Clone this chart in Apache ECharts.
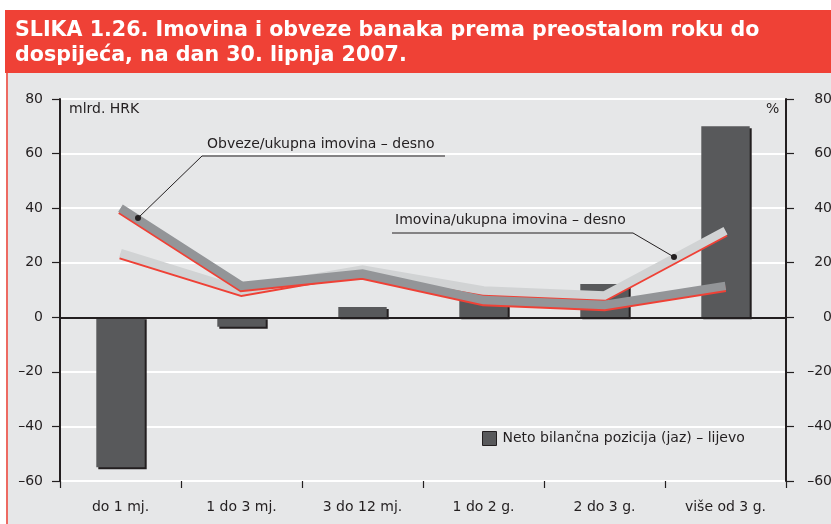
<!DOCTYPE html>
<html lang="hr">
<head>
<meta charset="UTF-8">
<title>Slika 1.26</title>
<script src="https://cdn.jsdelivr.net/npm/echarts@6/dist/echarts.min.js"></script>
<style>
  html, body { margin: 0; padding: 0; background: #fff; }
  #chart { width: 831px; height: 524px; }
</style>
</head>
<body>
<div id="chart"></div>
<script>
  // ročni razredi
  var categories = ['do 1 mj.', '1 do 3 mj.', '3 do 12 mj.', '1 do 2 g.', '2 do 3 g.', 'više od 3 g.'];
  // neto bilančna pozicija (jaz), mlrd. HRK – lijevo
  var gap = [-55, -3.5, 3.8, 6, 12.2, 70];
  // obveze / ukupna imovina, % – desno
  var obveze = [40, 11.5, 16, 6.3, 4.5, 11.5];
  // imovina / ukupna imovina, % – desno
  var imovina = [23.5, 9.8, 17.5, 9.8, 8, 31.7];
  var yTicks = { min: -60, max: 80, step: 20 };

  var txt = '#231f20';
  var font = '"DejaVu Sans", "Liberation Sans", Arial, sans-serif';

  function fmt(v) {
    return v < 0 ? '\u2013' + Math.abs(v) : String(v);
  }

  var chart = echarts.init(document.getElementById('chart'));

  var option = {
    animation: false,
    title: {
      text: 'SLIKA 1.26. Imovina i obveze banaka prema preostalom roku do\ndospijeća, na dan 30. lipnja 2007.',
      left: 10,
      top: 13,
      textStyle: { color: '#fff', fontFamily: font, fontWeight: 'bold', fontSize: 20.6, lineHeight: 25 }
    },
    grid: { left: 60, right: 45, top: 99, bottom: 43, containLabel: false, outerBoundsMode: 'none' },
    legend: {
      data: ['Neto bilančna pozicija (jaz) – lijevo'],
      left: 482, top: 431, padding: 0,
      itemWidth: 14, itemHeight: 14, icon: 'rect',
      selectedMode: false,
      itemStyle: { borderColor: txt, borderWidth: 1, shadowBlur: 0, shadowOffsetX: 0, shadowOffsetY: 0 },
      textStyle: { color: txt, fontFamily: font, fontSize: 14, padding: [0, 0, 0, 1] }
    },
    xAxis: {
      type: 'category',
      data: categories,
      position: 'bottom',
      axisLine: { show: false, onZero: false },
      axisTick: { show: true, length: 7, lineStyle: { color: txt, width: 1.2 } },
      axisLabel: { color: txt, fontFamily: font, fontSize: 14, margin: 19 },
      splitLine: { show: false }
    },
    yAxis: [{
      type: 'value',
      min: yTicks.min, max: yTicks.max, interval: yTicks.step,
      axisLine: { show: true, lineStyle: { color: txt, width: 2 } },
      axisTick: { show: true, length: 8, lineStyle: { color: txt, width: 1.2 } },
      axisLabel: { color: txt, fontFamily: font, fontSize: 14, margin: 17, formatter: fmt },
      splitLine: { show: true, lineStyle: { color: '#fff', width: 2 } }
    }, {
      type: 'value',
      position: 'right',
      min: yTicks.min, max: yTicks.max, interval: yTicks.step,
      axisLine: { show: true, lineStyle: { color: txt, width: 2 } },
      axisTick: { show: true, length: 8, lineStyle: { color: txt, width: 1.2 } },
      axisLabel: { color: txt, fontFamily: font, fontSize: 14, margin: 46, align: 'right', formatter: fmt },
      splitLine: { show: false }
    }],
    series: [{
      name: 'Neto bilančna pozicija (jaz) – lijevo',
      type: 'bar',
      data: gap,
      barWidth: '40%',
      itemStyle: {
        color: '#58595b',
        shadowColor: txt, shadowBlur: 0, shadowOffsetX: 2, shadowOffsetY: 2
      },
      markLine: {
        silent: true,
        symbol: ['none', 'none'],
        label: { show: false },
        lineStyle: { color: txt, width: 2, type: 'solid' },
        data: [{ yAxis: 0 }]
      }
    }, {
      name: 'Imovina/ukupna imovina – desno',
      type: 'line',
      yAxisIndex: 1,
      data: imovina,
      symbol: 'none',
      lineStyle: {
        color: '#d1d3d4', width: 8.5, cap: 'butt', join: 'miter',
        shadowColor: '#ef4136', shadowBlur: 0, shadowOffsetY: 2
      }
    }, {
      name: 'Obveze/ukupna imovina – desno',
      type: 'line',
      yAxisIndex: 1,
      data: obveze,
      symbol: 'none',
      lineStyle: {
        color: '#939598', width: 8.5, cap: 'butt', join: 'miter',
        shadowColor: '#ef4136', shadowBlur: 0, shadowOffsetY: 2
      }
    }],
    graphic: [
      // podloge
      { type: 'rect', z: -10, silent: true, shape: { x: 5, y: 10, width: 826, height: 63 }, style: { fill: '#ef4136' } },
      { type: 'rect', z: -10, silent: true, shape: { x: 6, y: 73, width: 825, height: 451 }, style: { fill: '#e6e7e8' } },
      { type: 'line', z: -9, silent: true, shape: { x1: 7, y1: 73, x2: 7, y2: 524 }, style: { stroke: '#ef4136', lineWidth: 1.5 } },
      // jedinice
      { type: 'text', z: 100, left: 69, top: 102, style: { text: 'mlrd. HRK', fill: txt, font: '14px ' + font } },
      { type: 'text', z: 100, left: 766, top: 102, style: { text: '%', fill: txt, font: '14px ' + font } },
      // oznaka: obveze
      { type: 'text', z: 100, left: 207, top: 137, style: { text: 'Obveze/ukupna imovina – desno', fill: txt, font: '14px ' + font } },
      { type: 'polyline', z: 100, silent: true, shape: { points: [[445, 156], [202, 156], [138, 218]] }, style: { stroke: txt, lineWidth: 1, fill: null } },
      { type: 'circle', z: 100, silent: true, shape: { cx: 138, cy: 218, r: 3 }, style: { fill: txt } },
      // oznaka: imovina
      { type: 'text', z: 100, left: 395, top: 213, style: { text: 'Imovina/ukupna imovina – desno', fill: txt, font: '14px ' + font } },
      { type: 'polyline', z: 100, silent: true, shape: { points: [[392, 233], [633, 233], [674, 257]] }, style: { stroke: txt, lineWidth: 1, fill: null } },
      { type: 'circle', z: 100, silent: true, shape: { cx: 674, cy: 257, r: 3 }, style: { fill: txt } }
    ]
  };

  chart.setOption(option);
</script>
</body>
</html>
